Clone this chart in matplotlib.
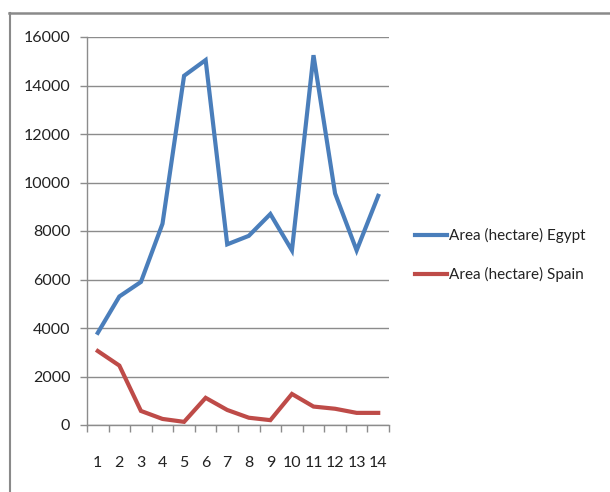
import matplotlib
matplotlib.use("Agg")
import matplotlib.pyplot as plt
from matplotlib.lines import Line2D
import numpy as np

# yearly series, area in hectares
periods = list(range(1, 15))
egypt_area = [3800, 5300, 5900, 8300, 14400, 15050, 7450, 7800, 8700, 7200, 15250, 9550, 7200, 9450]
spain_area = [3050, 2450, 580, 250, 130, 1120, 620, 300, 200, 1280, 760, 670, 500, 500]
y_ticks = list(range(0, 16001, 2000))

plt.rcParams['font.family'] = ['Lato', 'DejaVu Sans']

fig = plt.figure(figsize=(6.1, 4.92), dpi=100)
ax = fig.add_axes([87 / 610, 1 - 425 / 492, 302 / 610, 388 / 492])

ax.plot(periods, egypt_area, color='#4A7EBB', lw=3, label='Area (hectare) Egypt',
        solid_joinstyle='miter')
ax.plot(periods, spain_area, color='#BE4B48', lw=3, label='Area (hectare) Spain',
        solid_joinstyle='miter')

ax.set_xlim(0.5, 14.5)
ax.set_ylim(0, 16000)
ax.set_yticks(y_ticks)
ax.yaxis.grid(True, color='#8C8C8C', lw=1)
ax.set_axisbelow(True)

# category boundaries carry the tick marks, labels sit on the categories
ax.set_xticks(np.arange(0.5, 15, 1))
ax.set_xticklabels([])
ax.set_xticks(periods, minor=True)
ax.set_xticklabels([str(p) for p in periods], minor=True)
ax.tick_params(axis='x', which='major', length=5, color='#8C8C8C', width=1)
ax.tick_params(axis='x', which='minor', length=0, pad=22, labelsize=11.5, labelcolor='#222222')
ax.tick_params(axis='y', length=5, color='#8C8C8C', width=1, pad=7, labelsize=11.5,
               labelcolor='#222222')

for side in ['top', 'right']:
    ax.spines[side].set_visible(False)
for side in ['left', 'bottom']:
    ax.spines[side].set_color('#8C8C8C')
    ax.spines[side].set_linewidth(1)

fig.legend(loc='center left', bbox_to_anchor=(401 / 610, 1 - 255 / 492), frameon=False,
           fontsize=11, handlelength=2.1, handletextpad=0.15, labelspacing=1.55,
           labelcolor='#222222')

# outer frame of the figure box
fig.add_artist(Line2D([9 / 610, 1], [1 - 13 / 492, 1 - 13 / 492], color='#8A8A8A', lw=1.8,
                      transform=fig.transFigure))
fig.add_artist(Line2D([10 / 610, 10 / 610], [0, 1 - 13 / 492], color='#8A8A8A', lw=1.5,
                      transform=fig.transFigure))

fig.savefig('out.png', dpi=100)
